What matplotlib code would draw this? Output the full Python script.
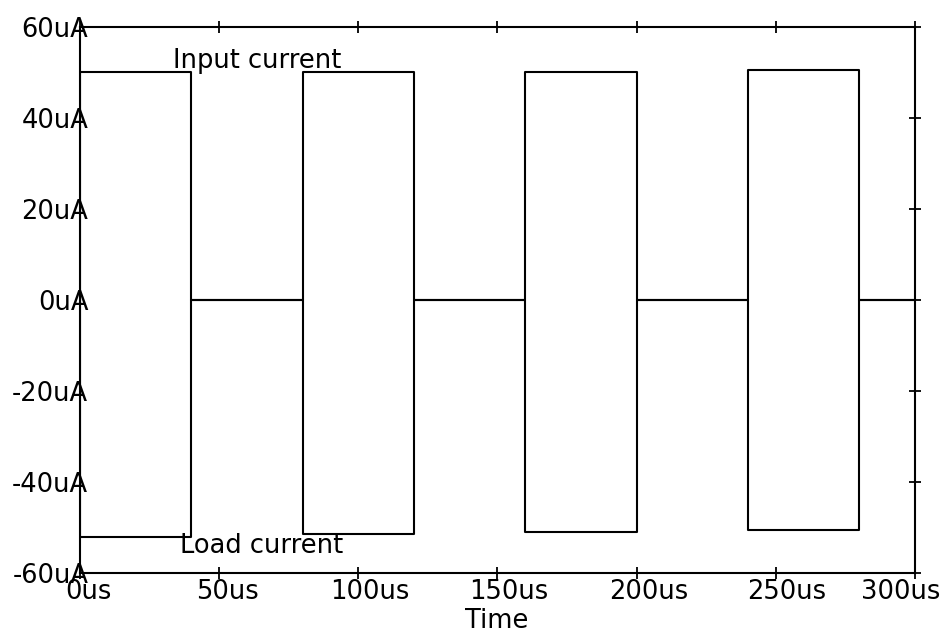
import numpy as np
from matplotlib import pyplot as plt

# Pulse timing (us) and levels (uA)
pulse_start = [0, 80, 160, 240]
pulse_end = [40, 120, 200, 280]
input_level = [50, 50, 50, 50.5]
load_level = [-52, -51.5, -51, -50.5]
t_end = 300

x_ticks = [0, 50, 100, 150, 200, 250, 300]
x_labels = ['0us', '50us', '100us', '150us', '200us', '250us', '300us']
y_ticks = [-60, -40, -20, 0, 20, 40, 60]
y_labels = ['-60uA', '-40uA', '-20uA', '0uA', '20uA', '40uA', '60uA']

# Build step traces
t_in, i_in, t_ld, i_ld = [], [], [], []
for s, e, hi, lo in zip(pulse_start, pulse_end, input_level, load_level):
    t_in += [s, s, e, e]
    i_in += [0, hi, hi, 0]
    t_ld += [s, s, e, e]
    i_ld += [0, lo, lo, 0]
t_in.append(t_end)
i_in.append(0)
t_ld.append(t_end)
i_ld.append(0)

fs = 18.5
plt.rcParams['font.family'] = 'DejaVu Sans'
fig = plt.figure(figsize=(9.51, 6.41), dpi=100)
ax = fig.add_axes([0.0841, 0.1061, 0.8780, 0.8518])

ax.plot(t_in, i_in, color='black', lw=1.5)
ax.plot(t_ld, i_ld, color='black', lw=1.5)

ax.set_xlim(0, 300)
ax.set_ylim(-60, 60)
for sp in ax.spines.values():
    sp.set_linewidth(1.5)

ax.set_xticks(x_ticks)
ax.set_xticklabels([])
ax.set_yticks(y_ticks)
ax.set_yticklabels(y_labels, fontsize=fs)
ax.tick_params(axis='y', left=False, right=True, direction='inout',
               length=8, width=1.3, pad=-10)
ax.tick_params(axis='x', top=True, bottom=True, direction='inout',
               length=8, width=1.3)

# x tick labels drawn slightly shifted like the plotter output
x_shift = [3, 3, 4, 4, 4.5, 4, -5]
for xt, lab, sh in zip(x_ticks, x_labels, x_shift):
    ax.text(xt + sh, -61.3, lab, ha='center', va='top', fontsize=fs)

ax.text(33.5, 51, 'Input current', ha='left', va='baseline', fontsize=fs)
ax.text(36, -55.6, 'Load current', ha='left', va='baseline', fontsize=fs)
fig.text(497 / 951, 1 - 621 / 641, 'Time', ha='center', va='center', fontsize=fs)

plt.savefig('out.png')
